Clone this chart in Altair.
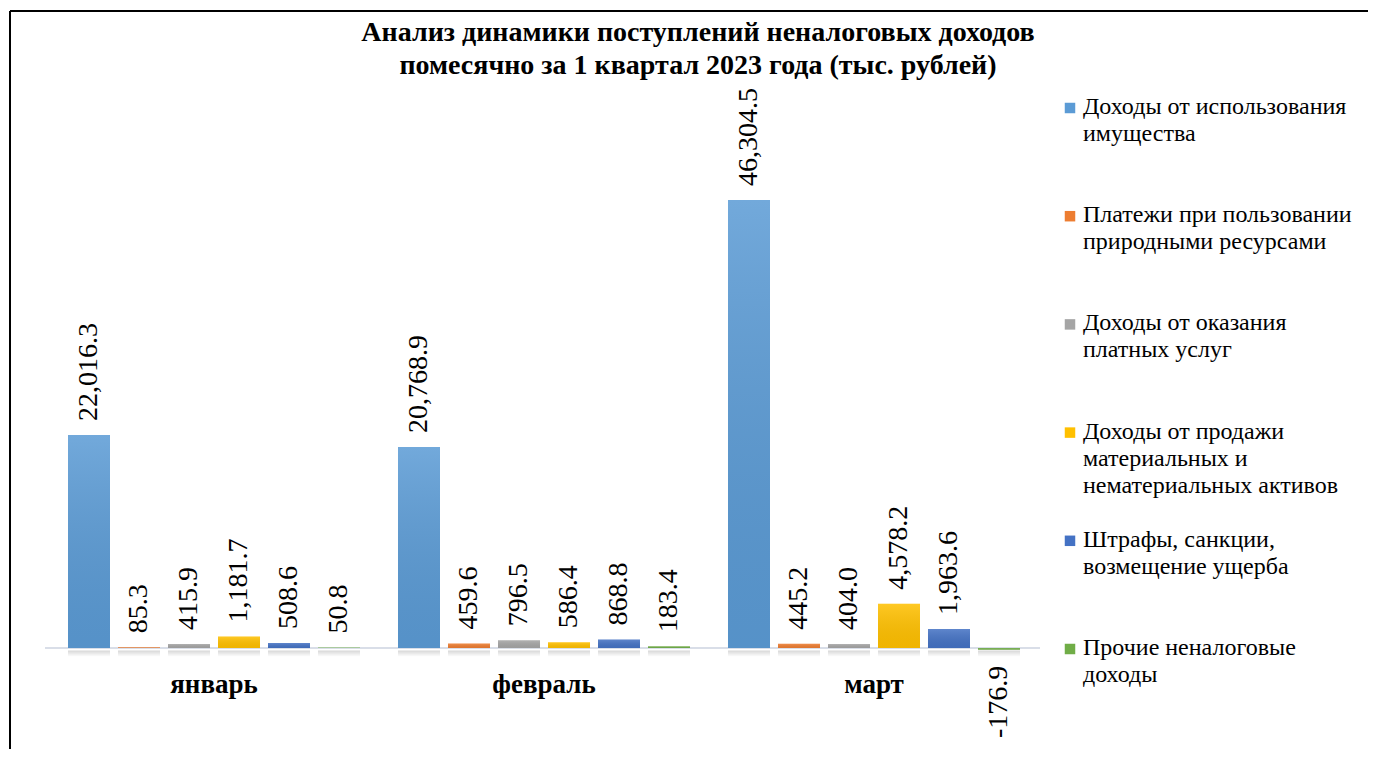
import altair as alt
import pandas as pd

FONT = "Liberation Serif"

title_lines = [
    "Анализ динамики поступлений неналоговых доходов",
    "помесячно за 1 квартал 2023 года (тыс. рублей)",
]
months = ["январь", "февраль", "март"]
series = [
    "Доходы от использования имущества",
    "Платежи при пользовании природными ресурсами",
    "Доходы от оказания платных услуг",
    "Доходы от продажи материальных и нематериальных активов",
    "Штрафы, санкции, возмещение ущерба",
    "Прочие неналоговые доходы",
]
legend_labels = [
    "Доходы от использования\nимущества",
    "Платежи при пользовании\nприродными ресурсами",
    "Доходы от оказания\nплатных услуг",
    "Доходы от продажи\nматериальных и\nнематериальных активов",
    "Штрафы, санкции,\nвозмещение ущерба",
    "Прочие неналоговые\nдоходы",
]
colors = ["#5B9BD5", "#ED7D31", "#A5A5A5", "#FFC000", "#4472C4", "#70AD47"]

v_property = [22016.3, 20768.9, 46304.5]
v_nature = [85.3, 459.6, 445.2]
v_services = [415.9, 796.5, 404.0]
v_assets = [1181.7, 586.4, 4578.2]
v_fines = [508.6, 868.8, 1963.6]
v_other = [50.8, 183.4, -176.9]
values = [v_property, v_nature, v_services, v_assets, v_fines, v_other]

rows = []
for s, vals in zip(series, values):
    for m, v in zip(months, vals):
        rows.append({"month": m, "series": s, "value": v, "label": f"{v:,.1f}"})
df = pd.DataFrame(rows)
dummy = pd.DataFrame({"d": [0]})
leg_df = pd.DataFrame({"series": series, "label": legend_labels})

W, H = 1358, 738
Y_DOM = [-10437, 65826]

xenc = alt.X("month:N", sort=months,
             scale=alt.Scale(domain=months, range=[54, 1014], paddingInner=0.0909, paddingOuter=0),
             axis=None)
xoff = alt.XOffset("series:N", sort=series,
                   scale=alt.Scale(domain=series, paddingInner=0.16, paddingOuter=0.08))
yscale = alt.Scale(domain=Y_DOM, nice=False, zero=False)
yenc = alt.Y("value:Q", scale=yscale, axis=None)
cenc = alt.Color("series:N", scale=alt.Scale(domain=series, range=colors), legend=None)

base = alt.Chart(df)

baseline = alt.Chart(dummy).mark_rule(color="#D9DEE8", strokeWidth=2).encode(
    x=alt.value(35), x2=alt.value(1030), y=alt.Y(datum=0, type="quantitative", scale=yscale, axis=None)
)

shadow_grad = alt.LinearGradient(
    gradient="linear",
    stops=[alt.GradientStop(color="rgba(0,0,0,0.16)", offset=0),
           alt.GradientStop(color="rgba(0,0,0,0)", offset=1)],
    x1=0, x2=0, y1=0, y2=1,
)
shadow = base.transform_calculate(s0="-250", s1="-900").mark_bar(fill=shadow_grad).encode(
    x=xenc, xOffset=xoff, y=alt.Y("s0:Q", scale=yscale, axis=None), y2="s1:Q"
)

bars = base.mark_bar().encode(x=xenc, xOffset=xoff, y=yenc, y2=alt.datum(0), color=cenc)

grad = alt.LinearGradient(
    gradient="linear",
    stops=[alt.GradientStop(color="rgba(255,255,255,0.14)", offset=0),
           alt.GradientStop(color="rgba(0,0,0,0.06)", offset=1)],
    x1=0, x2=0, y1=0, y2=1,
)
overlay = base.mark_bar(fill=grad).encode(x=xenc, xOffset=xoff, y=yenc, y2=alt.datum(0))

labels_pos = base.transform_filter("datum.value >= 0").mark_text(
    angle=270, align="left", baseline="middle", dx=14, font=FONT, fontSize=28, color="black"
).encode(x=xenc, xOffset=xoff, y=yenc, text="label:N")

labels_neg = base.transform_filter("datum.value < 0").mark_text(
    angle=270, align="right", baseline="middle", dx=-16, font=FONT, fontSize=28, color="black"
).encode(x=xenc, xOffset=xoff, y=yenc, text="label:N")

month_labels = alt.Chart(pd.DataFrame({"month": months})).mark_text(
    font=FONT, fontSize=27, fontWeight="bold", baseline="middle", color="black"
).encode(x=xenc, y=alt.value(674), text="month:N")

title = alt.Chart(dummy).mark_text(
    text=title_lines, font=FONT, fontSize=28, fontWeight="bold", lineHeight=33,
    baseline="middle", align="center", color="black"
).encode(x=alt.value(688), y=alt.value(22))

frame_v = alt.Chart(dummy).mark_rule(color="black", strokeWidth=2).encode(
    x=alt.value(0), y=alt.value(0), y2=alt.value(H)
)
frame_h = alt.Chart(dummy).mark_rule(color="black", strokeWidth=2).encode(
    y=alt.value(0), x=alt.value(0), x2=alt.value(W)
)

main = alt.layer(baseline, shadow, bars, overlay, labels_pos, labels_neg, month_labels, title,
                 frame_v, frame_h)

leg_y = alt.Y("series:N", sort=series,
              scale=alt.Scale(type="point", domain=series, range=[97, 638], padding=0), axis=None)
leg_sym = alt.Chart(leg_df).mark_square(size=110, opacity=1).encode(
    x=alt.value(1060), y=leg_y, color=cenc
)
leg_txt = alt.Chart(leg_df).mark_text(
    align="left", baseline="top", dy=-13, lineBreak="\n", font=FONT, fontSize=24,
    lineHeight=27, color="black"
).encode(x=alt.value(1073), y=leg_y, text="label:N")
legend = alt.layer(leg_sym, leg_txt)

chart = alt.layer(main, legend).resolve_scale(y="independent").properties(
    width=W, height=H,
    autosize=alt.AutoSizeParams(type="none"),
    padding={"left": 2, "top": 3, "right": 0, "bottom": 0},
    background="white",
).configure_view(strokeWidth=0)

chart.save("out.html", embed_options={"renderer": "svg", "actions": False})
